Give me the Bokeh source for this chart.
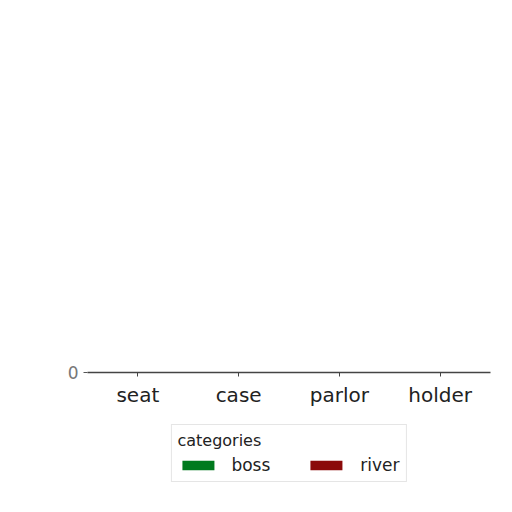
from bokeh.plotting import figure
from bokeh.models import Legend, LegendItem, FixedTicker, Range1d, FactorRange
from bokeh.transform import dodge
from bokeh.embed import file_html
from bokeh.resources import INLINE

categories = ["seat", "case", "parlor", "holder"]
boss = [0.2, 0.3, 0.5, 0.4]
river = [0.1, 0.6, 0.5, 0.3]
series_names = ["boss", "river"]
series_colors = ["#007a1e", "#8b0a0a"]

p = figure(x_range=FactorRange(*categories), y_range=Range1d(0, 1),
           width=496, height=496,
           output_backend="svg", toolbar_location=None,
           min_border_left=87, min_border_right=6, min_border_top=372,
           min_border_bottom=122)

r1 = p.vbar(x=dodge("x", -0.2, range=p.x_range), top="y", width=0.4,
            source=dict(x=categories, y=boss), fill_color=series_colors[0],
            line_color=None)
r2 = p.vbar(x=dodge("x", 0.2, range=p.x_range), top="y", width=0.4,
            source=dict(x=categories, y=river), fill_color=series_colors[1],
            line_color=None)

p.xgrid.visible = False
p.ygrid.visible = False
p.outline_line_color = None
p.background_fill_color = "white"
p.border_fill_color = "white"

p.yaxis.ticker = FixedTicker(ticks=[0])
p.yaxis.major_label_text_font = "DejaVu Sans"
p.yaxis.major_label_text_font_size = "17px"
p.yaxis.major_label_text_color = "#777777"
p.yaxis.axis_line_color = "#555555"
p.yaxis.major_tick_line_color = "#555555"
p.yaxis.minor_tick_line_color = None
p.yaxis.major_tick_in = 0
p.yaxis.major_tick_out = 4

p.xaxis.major_label_text_font = "DejaVu Sans"
p.xaxis.major_label_text_font_size = "20px"
p.xaxis.major_label_text_color = "#222222"
p.xaxis.axis_line_color = "#444444"
p.xaxis.axis_line_width = 1.5
p.xaxis.major_tick_line_color = "#444444"
p.xaxis.major_tick_in = 0
p.xaxis.major_tick_out = 4
p.xaxis.major_label_standoff = 6
p.xaxis.axis_label_standoff = 0

legend = Legend(items=[LegendItem(label=series_names[0], renderers=[r1]),
                       LegendItem(label=series_names[1], renderers=[r2])],
                orientation="horizontal", location="top_center",
                title="categories")
legend.title_text_font = "DejaVu Sans"
legend.title_text_font_size = "16px"
legend.title_text_font_style = "normal"
legend.title_text_color = "#222222"
legend.title_text_align = "center"
legend.label_text_font = "DejaVu Sans"
legend.label_text_font_size = "17px"
legend.label_text_color = "#222222"
legend.glyph_width = 40
legend.glyph_height = 12
legend.label_standoff = 14
legend.spacing = 36
legend.padding = 6
legend.margin = 0
legend.border_line_color = "#cccccc"
legend.background_fill_alpha = 1.0
p.add_layout(legend, "below")

open("out.html", "w").write(file_html(p, INLINE))
